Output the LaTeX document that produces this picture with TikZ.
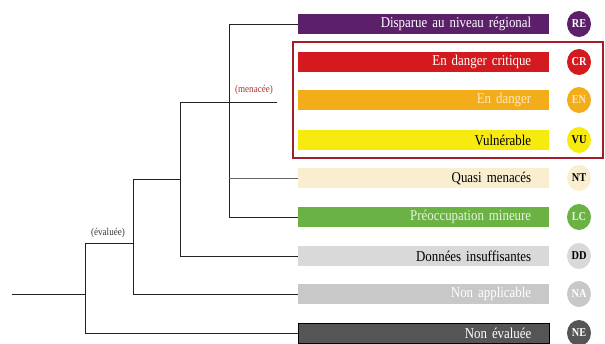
\documentclass[tikz,border=0pt]{standalone}
\usepackage{fontspec}
\usetikzlibrary{shapes.geometric}
\setmainfont{Liberation Serif}[FakeStretch=0.86,WordSpace=0.8]
\definecolor{cRE}{HTML}{5B2069}
\definecolor{cCR}{HTML}{D41A1F}
\definecolor{cEN}{HTML}{F4AD1A}
\definecolor{cVU}{HTML}{F7EA0F}
\definecolor{cNT}{HTML}{F9EFD0}
\definecolor{cLC}{HTML}{6BB244}
\definecolor{cDD}{HTML}{D9D9D9}
\definecolor{cNA}{HTML}{C8C8C8}
\definecolor{cNE}{HTML}{555555}
\definecolor{tEN}{HTML}{FBE8C0}
\definecolor{tLC}{HTML}{E8F2DC}
\definecolor{boxred}{HTML}{A31D2B}
\definecolor{menac}{HTML}{A5352C}
\definecolor{treeline}{HTML}{222222}
\begin{document}
\begin{tikzpicture}[x=1pt,y=-1pt,
  bar/.style={fill=#1, draw=none, anchor=west, minimum height=20pt, inner ysep=0pt,
    inner xsep=18pt, text width=215pt, align=right, font=\fontsize{15}{15}\selectfont},
  badge/.style={ellipse, fill=#1, minimum width=24pt, minimum height=26pt, inner sep=0pt,
    font=\fontsize{12}{12}\selectfont\bfseries},
  tree/.style={draw=treeline, line width=0.9pt},
  thin tree/.style={draw=treeline!70, line width=0.6pt},
  clade/.style={font=\fontsize{10.5}{10.5}\selectfont, inner sep=1pt}
]
\useasboundingbox (0,0) rectangle (605,343);

% bars
\node[bar=cRE, text=white]     (re) at (298,24)  {Disparue au niveau régional};
\node[bar=cCR, text=white]     (cr) at (298,62)  {En danger critique};
\node[bar=cEN, text=tEN]       (en) at (298,100) {En danger};
\node[bar=cVU, text=black]     (vu) at (298,140) {Vulnérable};
\node[bar=cNT, text=black]     (nt) at (298,178) {Quasi menacés};
\node[bar=cLC, text=tLC]       (lc) at (298,217) {Préoccupation mineure};
\node[bar=cDD, text=black]     (dd) at (298,256) {Données insuffisantes};
\node[bar=cNA, text=white]     (na) at (298,294) {Non applicable};
\node[bar=cNE, text=white, draw=black, line width=0.8pt] (ne) at (298,333) {Non évaluée};

% badges
\node[badge=cRE, text=white] (bre) at (579,24)  {RE};
\node[badge=cCR, text=white] (bcr) at (579,62)  {CR};
\node[badge=cEN, text=tEN]   (ben) at (579,100) {EN};
\node[badge=cVU, text=black] (bvu) at (579,140) {VU};
\node[badge=cNT, text=black] (bnt) at (579,178) {NT};
\node[badge=cLC, text=tLC]   (blc) at (579,217) {LC};
\node[badge=cDD, text=black] (bdd) at (579,256) {DD};
\node[badge=cNA, text=white] (bna) at (579,294) {NA};
\node[badge=cNE, text=white] (bne) at (579,333) {NE};

% threatened box
\draw[boxred, line width=1.5pt] (293,42) rectangle (603,158);

% tree
\coordinate (root) at (12,294);
\coordinate (a)  at (85,294);
\coordinate (a1) at (85,243);
\coordinate (a2) at (85,333);
\coordinate (b1) at (133,243);
\coordinate (b2) at (133,294);
\coordinate (bt) at (133,179);
\coordinate (c1) at (180,179);
\coordinate (ct) at (180,102);
\coordinate (cb) at (180,256);
\coordinate (mend) at (277,102);
\coordinate (dt) at (229,24);
\coordinate (dn) at (229,178);
\coordinate (db) at (229,217);

\draw[tree] (root) -- (a);
\draw[tree] (a1) -- (a2) -- (ne.west);
\draw[tree] (a1) -- (b1);
\draw[tree] (bt) -- (b2) -- (na.west);
\draw[tree] (bt) -- (c1);
\draw[tree] (ct) -- (cb) -- (dd.west);
\draw[tree] (ct) -- (mend);
\draw[tree] (re.west) -- (dt) -- (db) -- (lc.west);
\draw[thin tree] (dn) -- (nt.west);

% clade labels
\node[clade, text=black!80] (lev) at (108,233) {(évaluée)};
\node[clade, text=menac]    (lme) at (254,90)  {(menacée)};
\end{tikzpicture}
\end{document}
